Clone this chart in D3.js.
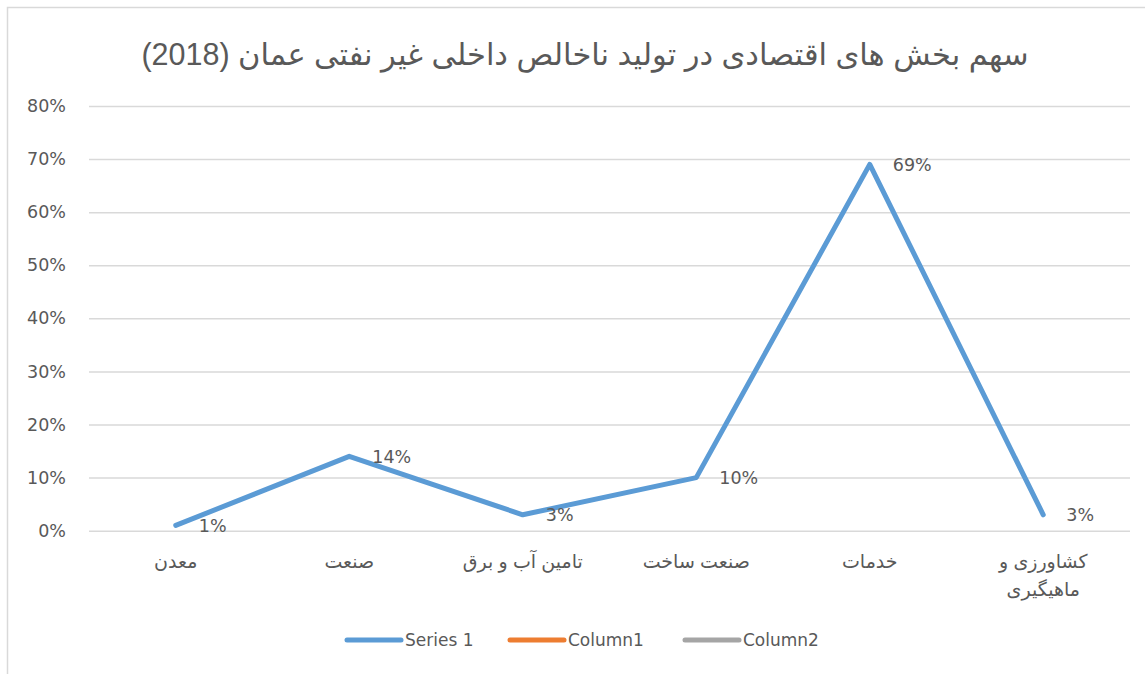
<!DOCTYPE html>
<html>
<head>
<meta charset="utf-8">
<script src="https://cdn.jsdelivr.net/npm/d3@7"></script>
<style>
  body { margin: 0; background: #fff; }
  svg text { fill: #595959; }
</style>
</head>
<body>
<div id="chart-container"></div>
<script>
(function() {
'use strict';

const chart = "#chart-container";

const W = 1145;
const H = 674;

// data
const TITLE = "سهم بخش های اقتصادی در تولید ناخالص داخلی غیر نفتی عمان (2018)";
const categories = [
  ["معدن"],
  ["صنعت"],
  ["تامین آب و برق"],
  ["صنعت ساخت"],
  ["خدمات"],
  ["کشاورزی و", "ماهیگیری"]
];
const series1 = [0.01, 0.14, 0.03, 0.10, 0.69, 0.03];
const yTicks = [0, 0.1, 0.2, 0.3, 0.4, 0.5, 0.6, 0.7, 0.8];
const legendNames = ["Series 1", "Column1", "Column2"];
const legendColors = ["#5B9BD5", "#ED7D31", "#A5A5A5"];

const PLOT = { left: 89, right: 1130, top: 106, bottom: 530.7 };
const LATIN = "'DejaVu Sans', sans-serif";
const ARABIC = "'Liberation Sans', 'DejaVu Sans', sans-serif";

const svg = d3.select(chart)
  .append("svg")
    .attr("width", W)
    .attr("height", H);

// chart frame
svg.append("rect")
  .attr("x", 7.5)
  .attr("y", 7.5)
  .attr("width", W + 20)
  .attr("height", H + 20)
  .attr("fill", "#fff")
  .attr("stroke", "#D9D9D9")
  .attr("stroke-width", 1.5);

const xScale = d3.scalePoint()
  .domain(d3.range(categories.length))
  .range([PLOT.left, PLOT.right])
  .padding(0.5);

const yScale = d3.scaleLinear()
  .domain([0, 0.8])
  .range([PLOT.bottom, PLOT.top]);

// gridlines + y labels
const yAxis = d3.axisLeft(yScale)
  .tickValues(yTicks)
  .tickFormat(d3.format(".0%"))
  .tickSize(-(PLOT.right - PLOT.left))
  .tickPadding(23);

const gy = svg.append("g")
  .attr("id", "y-axis")
  .attr("transform", `translate(${PLOT.left}, 0)`)
  .call(yAxis);

gy.select(".domain").remove();
gy.selectAll(".tick line")
  .attr("stroke", "#D9D9D9")
  .attr("stroke-width", 1.5);
gy.selectAll(".tick text")
  .attr("font-family", LATIN)
  .attr("font-size", 17.5)
  .attr("fill", "#595959");

// category labels
const xLabels = svg.append("g").attr("id", "x-axis");
categories.forEach((lines, i) => {
  const t = xLabels.append("text")
    .attr("x", xScale(i))
    .attr("y", 568)
    .attr("text-anchor", "middle")
    .attr("direction", "rtl")
    .attr("font-family", ARABIC)
    .attr("font-size", 19)
    .attr("fill", "#595959");
  lines.forEach((ln, j) => {
    t.append("tspan")
      .attr("x", xScale(i))
      .attr("dy", j === 0 ? 0 : 28)
      .text(ln);
  });
});

// line
const line = d3.line()
  .x((d, i) => xScale(i))
  .y((d) => yScale(d));

svg.append("path")
  .datum(series1)
  .attr("fill", "none")
  .attr("stroke", legendColors[0])
  .attr("stroke-width", 5)
  .attr("stroke-linecap", "round")
  .attr("stroke-linejoin", "round")
  .attr("d", line);

// data labels
svg.selectAll(".data-label")
  .data(series1)
  .enter()
  .append("text")
    .attr("class", "data-label")
    .attr("x", (d, i) => xScale(i) + 23)
    .attr("y", (d) => yScale(d))
    .attr("dy", "0.36em")
    .attr("font-family", LATIN)
    .attr("font-size", 17.5)
    .attr("fill", "#404040")
    .text((d) => d3.format(".0%")(d));

// title
svg.append("text")
  .attr("x", 585)
  .attr("y", 65)
  .attr("text-anchor", "middle")
  .attr("direction", "rtl")
  .attr("font-family", ARABIC)
  .attr("font-size", 30.5)
  .attr("fill", "#595959")
  .text(TITLE);

// legend
const legendX = [347, 510, 685];
const legend = svg.append("g").attr("id", "legend");
legendNames.forEach((name, i) => {
  legend.append("line")
    .attr("x1", legendX[i])
    .attr("x2", legendX[i] + 54)
    .attr("y1", 640)
    .attr("y2", 640)
    .attr("stroke", legendColors[i])
    .attr("stroke-width", 5)
    .attr("stroke-linecap", "round");
  legend.append("text")
    .attr("x", legendX[i] + 58)
    .attr("y", 640)
    .attr("dy", "0.36em")
    .attr("font-family", LATIN)
    .attr("font-size", 17)
    .attr("fill", "#595959")
    .text(name);
});

})()
</script>
</body>
</html>
